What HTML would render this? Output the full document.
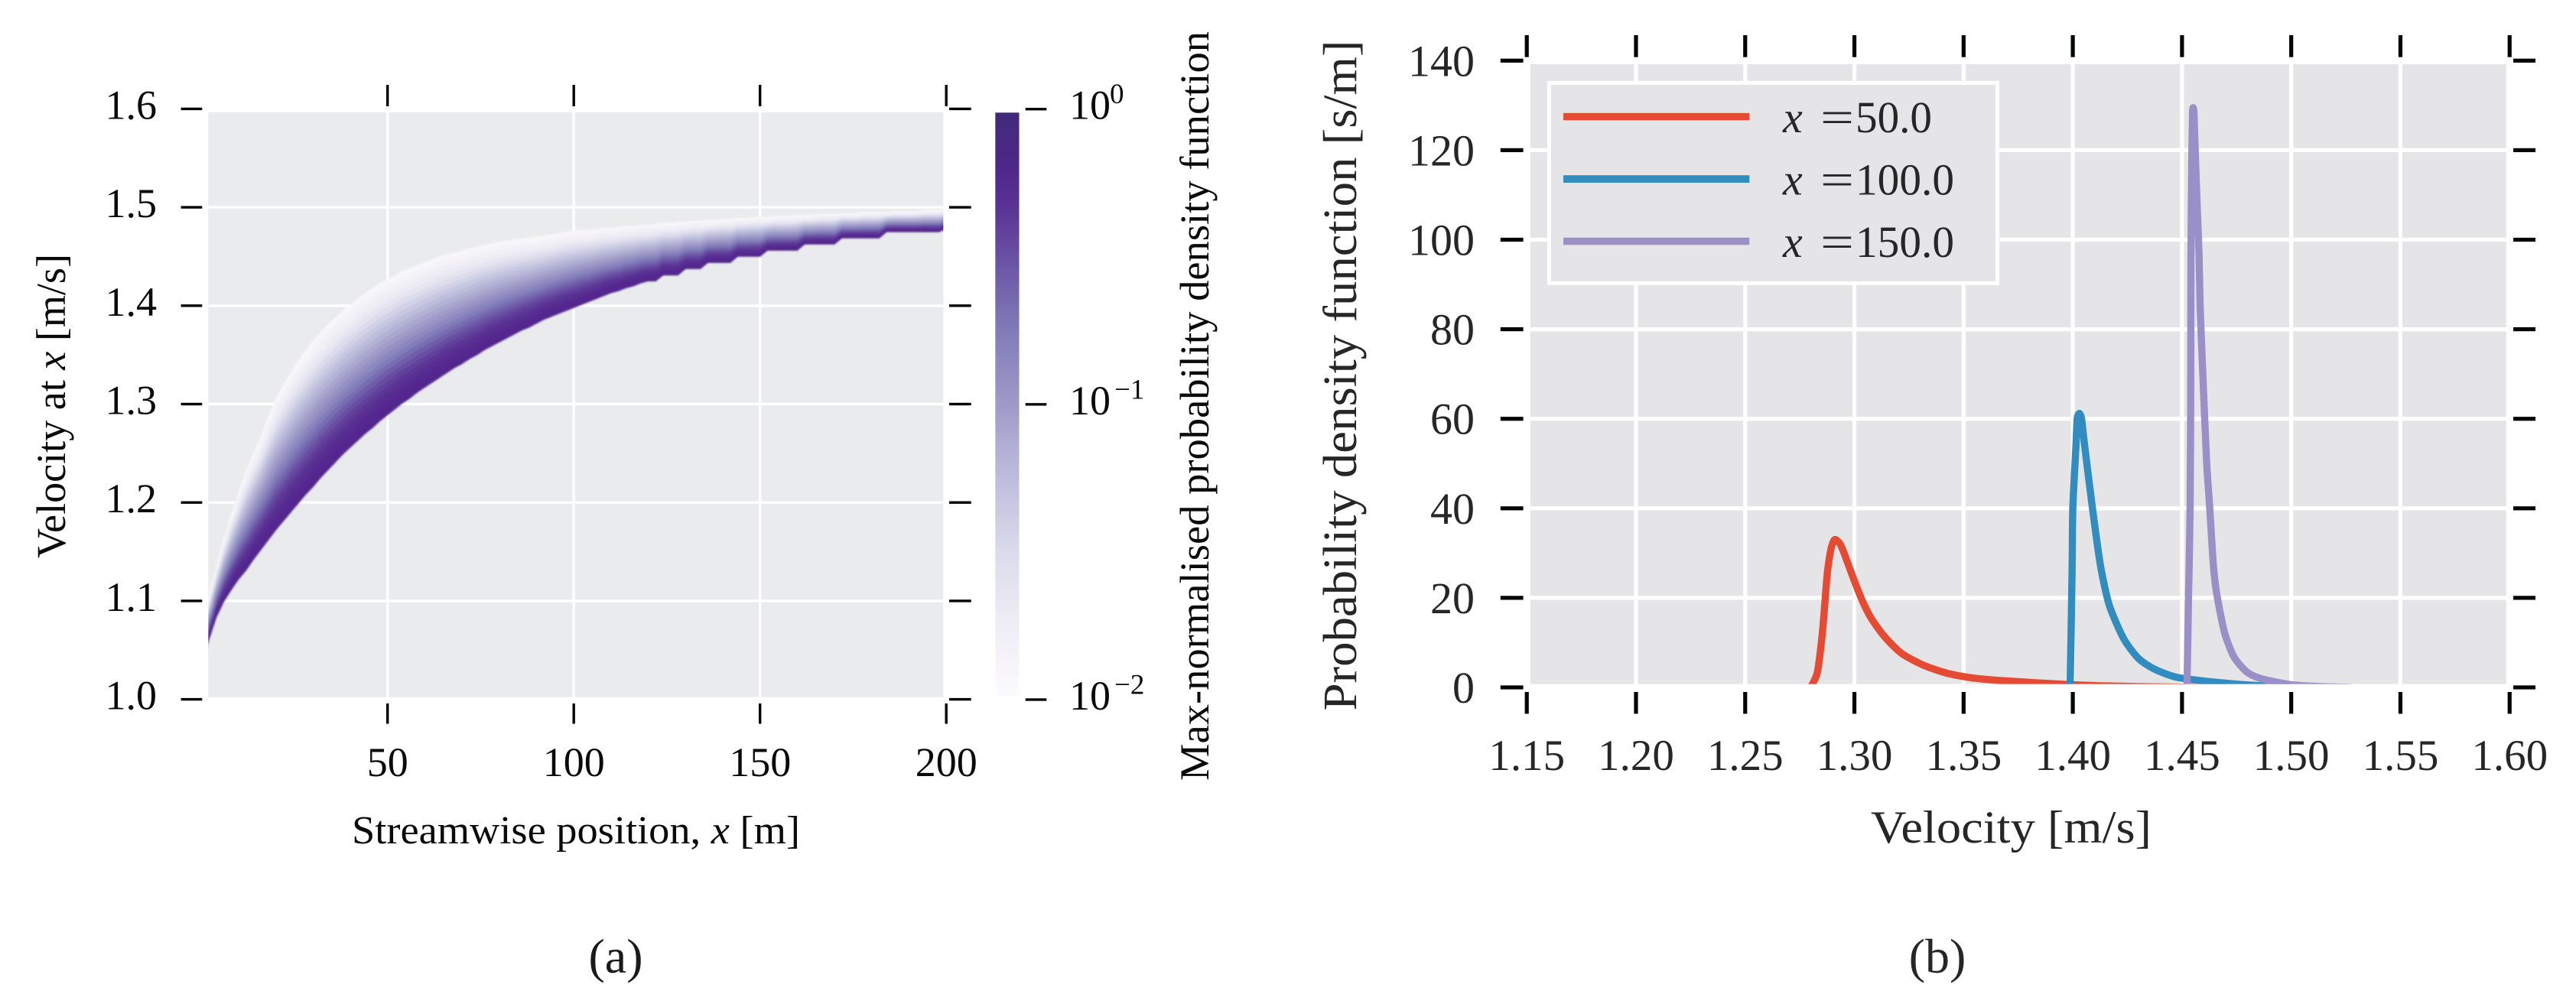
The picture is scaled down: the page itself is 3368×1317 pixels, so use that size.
<!DOCTYPE html>
<html lang="en">
<head>
<meta charset="utf-8">
<title>Velocity probability density charts</title>
<style>
html,body{margin:0;padding:0;background:#fff}
svg{display:block}
text{font-family:"Liberation Serif",serif}
</style>
</head>
<body>
<svg id="fig" xmlns="http://www.w3.org/2000/svg" width="3368" height="1317" viewBox="0 0 3368 1317">
  <defs>
    <clipPath id="clip-a"><rect x="272.3" y="147" width="961" height="764.8"/></clipPath>
    <clipPath id="clip-b"><rect x="2000.8" y="84" width="1276" height="810.6"/></clipPath>
    <filter id="soft" x="250" y="120" width="1010" height="820" filterUnits="userSpaceOnUse"><feGaussianBlur stdDeviation="1.1"/></filter>
    <linearGradient id="cbar-gradient" x1="0" y1="0" x2="0" y2="1"></linearGradient>
  </defs>
  <rect width="3368" height="1317" fill="#ffffff"/>

  <g id="panel-a">
    <rect x="272.3" y="147" width="961" height="764.8" fill="#eaebed"/>
    <g id="grid-a"></g>
    <g clip-path="url(#clip-a)"><g id="cells" filter="url(#soft)"></g></g>
    <g id="axes-a"></g>
    <text transform="translate(85,730) rotate(-90)" font-size="54" fill="#0a0a0a" textLength="398" lengthAdjust="spacingAndGlyphs">Velocity at <tspan font-style="italic">x</tspan> [m/s]</text>
    <text x="460" y="1103" font-size="52" fill="#0a0a0a" textLength="586" lengthAdjust="spacingAndGlyphs">Streamwise position, <tspan font-style="italic">x</tspan> [m]</text>
    <rect x="1301.3" y="147.3" width="31.2" height="763.4" fill="url(#cbar-gradient)"/>
    <g id="axes-cbar"></g>
    <text transform="translate(1580,1021) rotate(-90)" font-size="54" fill="#0a0a0a" textLength="980" lengthAdjust="spacingAndGlyphs">Max-normalised probability density function</text>
    <text x="805" y="1272" font-size="64" fill="#1a1a1a" text-anchor="middle">(a)</text>
  </g>

  <g id="panel-b">
    <rect x="2000.8" y="84" width="1276" height="810.6" fill="#e5e5e8"/>
    <g id="grid-b"></g>
    <g id="lines" clip-path="url(#clip-b)"></g>
    <g id="axes-b"></g>
    <text transform="translate(1773,929.5) rotate(-90)" font-size="62" fill="#262626" textLength="877" lengthAdjust="spacingAndGlyphs">Probability density function [s/m]</text>
    <text x="2446" y="1102" font-size="60" fill="#262626" textLength="367" lengthAdjust="spacingAndGlyphs">Velocity [m/s]</text>
    <g>
      <rect x="2025.5" y="108.4" width="586" height="262" fill="#e5e5e8" stroke="#ffffff" stroke-width="5"/>
      <g>
        <rect x="2044" y="147.8" width="243.3" height="9.5" fill="#E54B33"/>
        <text x="2331" y="173" font-size="58" font-style="italic" fill="#262626">x</text>
        <text x="2380" y="173" font-size="58" fill="#262626" textLength="44" lengthAdjust="spacingAndGlyphs">=</text>
        <text x="2426" y="173" font-size="58" fill="#262626" textLength="100" lengthAdjust="spacingAndGlyphs">50.0</text>
      </g>
      <g>
        <rect x="2044" y="229.2" width="243.3" height="9.8" fill="#318CBF"/>
        <text x="2331" y="254.3" font-size="58" font-style="italic" fill="#262626">x</text>
        <text x="2380" y="254.3" font-size="58" fill="#262626" textLength="44" lengthAdjust="spacingAndGlyphs">=</text>
        <text x="2426" y="254.3" font-size="58" fill="#262626" textLength="129" lengthAdjust="spacingAndGlyphs">100.0</text>
      </g>
      <g>
        <rect x="2044" y="310.8" width="243.3" height="9.5" fill="#9A8FC6"/>
        <text x="2331" y="336" font-size="58" font-style="italic" fill="#262626">x</text>
        <text x="2380" y="336" font-size="58" fill="#262626" textLength="44" lengthAdjust="spacingAndGlyphs">=</text>
        <text x="2426" y="336" font-size="58" fill="#262626" textLength="129" lengthAdjust="spacingAndGlyphs">150.0</text>
      </g>
    </g>
    <text x="2533" y="1272" font-size="64" fill="#262626" text-anchor="middle">(b)</text>
  </g>
</svg>

<script>
/* Panel (a): heatmap data */
const positionTicks = [50, 100, 150, 200];
const velocityTicks = [1.0, 1.1, 1.2, 1.3, 1.4, 1.5, 1.6];
const velocityTickLabels = ['1.0', '1.1', '1.2', '1.3', '1.4', '1.5', '1.6'];
const colorbarExponents = [0, -1, -2];
const columnCentres = [1,2,4,6,8,10,12,14,16,18,20,22,24,26,28,30,32,34,36,38,40,42,44,46,48,50,52,54,56,58,60,62,64,66,68,70,72,74,76,78,80,82,84,86,88,90,92,94,96,98,100,102,104,106,108,110,112,114,116,118,120,122,124,126,128,130,132,134,136,138,140,142,144,146,148,150,152,154,156,158,160,162,164,166,168,170,172,174,176,178,180,182,184,186,188,190,192,194,196,198,200];
const lowerEdge = [1.045,1.060,1.083,1.099,1.111,1.122,1.131,1.142,1.152,1.162,1.172,1.181,1.190,1.199,1.208,1.216,1.225,1.233,1.241,1.249,1.256,1.263,1.270,1.276,1.283,1.289,1.295,1.301,1.306,1.312,1.317,1.322,1.327,1.332,1.337,1.341,1.346,1.350,1.355,1.359,1.363,1.367,1.371,1.375,1.378,1.382,1.386,1.389,1.392,1.395,1.398,1.401,1.404,1.407,1.410,1.413,1.415,1.418,1.420,1.423,1.425,1.425,1.431,1.431,1.431,1.4375,1.4375,1.4375,1.4437,1.4437,1.4437,1.4437,1.450,1.450,1.450,1.450,1.4562,1.4562,1.4562,1.4562,1.4562,1.4625,1.4625,1.4625,1.4625,1.4625,1.4687,1.4687,1.4687,1.4687,1.4687,1.4687,1.475,1.475,1.475,1.475,1.475,1.475,1.475,1.475,1.478];
const upperEdge = [1.090,1.105,1.135,1.163,1.188,1.210,1.232,1.250,1.267,1.287,1.305,1.319,1.332,1.344,1.354,1.364,1.373,1.381,1.388,1.395,1.401,1.407,1.413,1.418,1.423,1.427,1.431,1.435,1.438,1.441,1.444,1.447,1.450,1.452,1.454,1.456,1.458,1.460,1.462,1.463,1.465,1.466,1.467,1.468,1.469,1.470,1.471,1.472,1.474,1.475,1.476,1.477,1.477,1.478,1.479,1.479,1.480,1.481,1.481,1.482,1.482,1.483,1.484,1.484,1.485,1.485,1.486,1.486,1.487,1.487,1.488,1.488,1.489,1.489,1.490,1.490,1.490,1.491,1.491,1.491,1.492,1.492,1.492,1.493,1.493,1.493,1.494,1.494,1.494,1.495,1.495,1.495,1.495,1.496,1.496,1.496,1.496,1.497,1.497,1.497,1.498];
/* log10 of density from a column's lower edge (first) to its upper edge (last) */
const bandLogDensity = [-0.22,-0.26,-0.34,-0.54,-0.76,-0.98,-1.16,-1.36,-1.60,-1.80,-1.94];
const bandSlices = 24;
const purplesRamp = ['#fcfbfd','#efedf5','#dadaeb','#bcbddc','#9e9ac8','#807dba','#6a51a3','#54278f','#412a7a'];

/* Panel (b): line data */
const pdfTicks = [0, 20, 40, 60, 80, 100, 120, 140];
const speedTicks = [1.15, 1.20, 1.25, 1.30, 1.35, 1.40, 1.45, 1.50, 1.55, 1.60];
const speedTickLabels = ['1.15', '1.20', '1.25', '1.30', '1.35', '1.40', '1.45', '1.50', '1.55', '1.60'];
const speed50 = [1.2795,1.2805,1.2825,1.2835,1.2855,1.2875,1.2891,1.2905,1.2915,1.2935,1.2955,1.2995,1.3035,1.3075,1.3137,1.3216,1.3317,1.3438,1.3599,1.3957,1.418,1.447,1.47];
const pdf50 = [0,0.5,2.5,4.6,13,25,30.5,32.7,33,32,29.7,24.4,19.5,15.6,11.4,7.6,4.95,3,1.8,0.7,0.3,0.05,0];
const speed100 = [1.3985,1.3988,1.3997,1.4,1.4015,1.402,1.403,1.404,1.4053,1.409,1.4127,1.4163,1.4198,1.424,1.43,1.4369,1.4472,1.4643,1.4815,1.50];
const pdf100 = [0,0.7,27.1,40,54.5,60,61.2,60,54.5,40,27.1,19,14.5,10.3,6.5,4.2,2.3,1.2,0.5,0.05];
const speed150 = [1.452,1.4523,1.453,1.4537,1.454,1.4541,1.4545,1.4548,1.4551,1.4555,1.4561,1.4569,1.4578,1.4583,1.4594,1.4612,1.4627,1.4644,1.466,1.4695,1.4738,1.4798,1.4866,1.5,1.5125,1.5275];
const pdf150 = [0,0.7,20.6,40,68,96,119,128,129.5,128,119,108,96.6,85,71.5,51,40,27,20.6,12.2,6.8,3.4,1.9,0.6,0.2,0];

const NS = 'http://www.w3.org/2000/svg';
function mk(parentId, tag, attrs) {
  const el = document.createElementNS(NS, tag);
  for (const k in attrs) el.setAttribute(k, attrs[k]);
  document.getElementById(parentId).appendChild(el);
  return el;
}
/* axis functions */
const xA = v => 506.7 + (v - 50) * 4.87;
const yA = v => 914.6 - (v - 1) * 1287;
const yC = e => 142.7 - e * 386.15;
const xB = v => 1996.2 + (v - 1.15) * 2855.6;
const yB = v => 899 - 5.855 * v;

function hexRgb(h) {
  return [parseInt(h.slice(1,3),16), parseInt(h.slice(3,5),16), parseInt(h.slice(5,7),16)];
}
function purples(p) {
  const c = Math.max(0, Math.min(1, p)) * (purplesRamp.length - 1);
  const i = Math.min(purplesRamp.length - 2, Math.floor(c));
  const f = c - i;
  const a = hexRgb(purplesRamp[i]), b = hexRgb(purplesRamp[i + 1]);
  return 'rgb(' + a.map((ai, n) => Math.round(ai + (b[n] - ai) * f)).join(',') + ')';
}
const colorOfLog = d => purples(1 + d / 2);
function bandDensity(t) {
  const c = Math.max(0, Math.min(1, t)) * (bandLogDensity.length - 1);
  const i = Math.min(bandLogDensity.length - 2, Math.floor(c));
  return bandLogDensity[i] + (bandLogDensity[i + 1] - bandLogDensity[i]) * (c - i);
}

/* Panel (a) grid */
positionTicks.slice(0, 3).forEach(v => {
  const l = mk('grid-a', 'line', {x1: xA(v), x2: xA(v), y1: 147, y2: 911.8, stroke: '#fff', 'stroke-width': 3.4});
  
  
});
velocityTicks.slice(1, 6).forEach(v => {
  const l = mk('grid-a', 'line', {x1: 272.3, x2: 1233.3, y1: yA(v), y2: yA(v), stroke: '#fff', 'stroke-width': 3.4});
  
  
});

/* Panel (a) heatmap cells: each cell spans one band slice between neighbouring columns */
for (let ci = 0; ci < columnCentres.length - 1; ci++) {
  const c0 = columnCentres[ci], c1 = columnCentres[ci + 1];
  const lo0 = lowerEdge[ci], hi0 = upperEdge[ci];
  const lo1 = lowerEdge[ci + 1], hi1 = upperEdge[ci + 1];
  for (let s = 0; s < bandSlices; s++) {
    const t0 = s / bandSlices, t1 = (s + 1) / bandSlices;
    const pts = [
      [xA(c0), yA(lo0 + t0 * (hi0 - lo0))],
      [xA(c1), yA(lo1 + t0 * (hi1 - lo1))],
      [xA(c1), yA(lo1 + t1 * (hi1 - lo1))],
      [xA(c0), yA(lo0 + t1 * (hi0 - lo0))]
    ];
    const fillColour = colorOfLog(bandDensity((t0 + t1) / 2));
    const cell = mk('cells', 'polygon', {points: pts.map(p => p[0].toFixed(2) + ',' + p[1].toFixed(2)).join(' '), fill: fillColour, stroke: fillColour, 'stroke-width': 0.7});
    
    
  }
}

/* Panel (a) axes */
velocityTicks.forEach((v, i) => {
  const y = yA(v);
  const lt = mk('axes-a', 'rect', {x: 236.6, y: y - 1.7, width: 27.7, height: 3.4, fill: '#050505'});
  
  
  const rt = mk('axes-a', 'rect', {x: 1241, y: y - 1.7, width: 28.7, height: 3.4, fill: '#050505'});
  
  
  const lb = mk('axes-a', 'text', {x: 205, y: y + 13, 'font-size': 54, fill: '#0a0a0a', 'text-anchor': 'end'});
  
  
  lb.textContent = velocityTickLabels[i];
});
positionTicks.forEach(v => {
  const x = xA(v);
  const tt = mk('axes-a', 'rect', {x: x - 1.7, y: 111, width: 3.4, height: 28, fill: '#050505'});
  
  
  const bt = mk('axes-a', 'rect', {x: x - 1.7, y: 920, width: 3.4, height: 26.6, fill: '#050505'});
  
  
  const lb = mk('axes-a', 'text', {x: x, y: 1015, 'font-size': 54, fill: '#0a0a0a', 'text-anchor': 'middle'});
  
  
  lb.textContent = String(v);
});

/* Colorbar */
for (let i = 0; i <= 20; i++) {
  const s = mk('cbar-gradient', 'stop', {offset: (i / 20), 'stop-color': purples(1 - i / 20)});
  
  
}
colorbarExponents.forEach(e => {
  const y = yC(e);
  const t = mk('axes-cbar', 'rect', {x: 1340.7, y: y - 1.7, width: 27.6, height: 3.4, fill: '#050505'});
  
  
  const base = mk('axes-cbar', 'text', {x: 1398, y: y + 13, 'font-size': 54, fill: '#0a0a0a'});
  
  
  base.textContent = '10';
  const exp = mk('axes-cbar', 'text', {x: e === 0 ? 1451 : 1457, y: y - 7.5, 'font-size': 37, fill: '#0a0a0a'});
  
  
  exp.textContent = e === 0 ? '0' : '\u2212' + Math.abs(e);
});

/* Panel (b) grid */
speedTicks.slice(1, 9).forEach(v => {
  const l = mk('grid-b', 'line', {x1: xB(v), x2: xB(v), y1: 84, y2: 894.6, stroke: '#fff', 'stroke-width': 5.2});
  
  
});
pdfTicks.slice(1, 7).forEach(v => {
  const l = mk('grid-b', 'line', {x1: 2000.8, x2: 3276.8, y1: yB(v), y2: yB(v), stroke: '#fff', 'stroke-width': 5.2});
  
  
});

/* Panel (b) lines: smooth curve through the read points */
function pathFrom(xs, ys) {
  const pts = xs.map((x, i) => [xB(x), yB(ys[i])]);
  let d = 'M' + pts[0][0].toFixed(2) + ' ' + pts[0][1].toFixed(2);
  for (let i = 0; i < pts.length - 1; i++) {
    const p0 = pts[Math.max(0, i - 1)], p1 = pts[i], p2 = pts[i + 1], p3 = pts[Math.min(pts.length - 1, i + 2)];
    const c1x = p1[0] + (p2[0] - p0[0]) / 8, c1y = p1[1] + (p2[1] - p0[1]) / 8;
    const c2x = p2[0] - (p3[0] - p1[0]) / 8, c2y = p2[1] - (p3[1] - p1[1]) / 8;
    d += ' C' + c1x.toFixed(2) + ' ' + c1y.toFixed(2) + ' ' + c2x.toFixed(2) + ' ' + c2y.toFixed(2) + ' ' + p2[0].toFixed(2) + ' ' + p2[1].toFixed(2);
  }
  return d;
}
const red = mk('lines', 'path', {d: pathFrom(speed50, pdf50), fill: 'none', stroke: '#E54B33', 'stroke-width': 9.4, 'stroke-linejoin': 'round', 'stroke-linecap': 'butt'});


const blue = mk('lines', 'path', {d: pathFrom(speed100, pdf100), fill: 'none', stroke: '#318CBF', 'stroke-width': 9.4, 'stroke-linejoin': 'round', 'stroke-linecap': 'butt'});


const violet = mk('lines', 'path', {d: pathFrom(speed150, pdf150), fill: 'none', stroke: '#9A8FC6', 'stroke-width': 9.4, 'stroke-linejoin': 'round', 'stroke-linecap': 'butt'});



/* Panel (b) axes */
pdfTicks.forEach(v => {
  const y = yB(v);
  const lt = mk('axes-b', 'rect', {x: 1961.8, y: y - 2.6, width: 29.8, height: 5.2, fill: '#030505'});
  
  
  const rt = mk('axes-b', 'rect', {x: 3286, y: y - 2.6, width: 29, height: 5.2, fill: '#030505'});
  
  
  const lb = mk('axes-b', 'text', {x: 1928, y: y + 20, 'font-size': 58, fill: '#262626', 'text-anchor': 'end'});
  
  
  lb.textContent = String(v);
});
speedTicks.forEach((v, i) => {
  const x = xB(v);
  const tt = mk('axes-b', 'rect', {x: x - 2.6, y: 46, width: 5.2, height: 28.7, fill: '#030505'});
  
  
  const bt = mk('axes-b', 'rect', {x: x - 2.6, y: 905, width: 5.2, height: 28.5, fill: '#030505'});
  
  
  const lb = mk('axes-b', 'text', {x: x, y: 1007, 'font-size': 57, fill: '#262626', 'text-anchor': 'middle'});
  
  
  lb.textContent = speedTickLabels[i];
});
</script>
</body>
</html>
